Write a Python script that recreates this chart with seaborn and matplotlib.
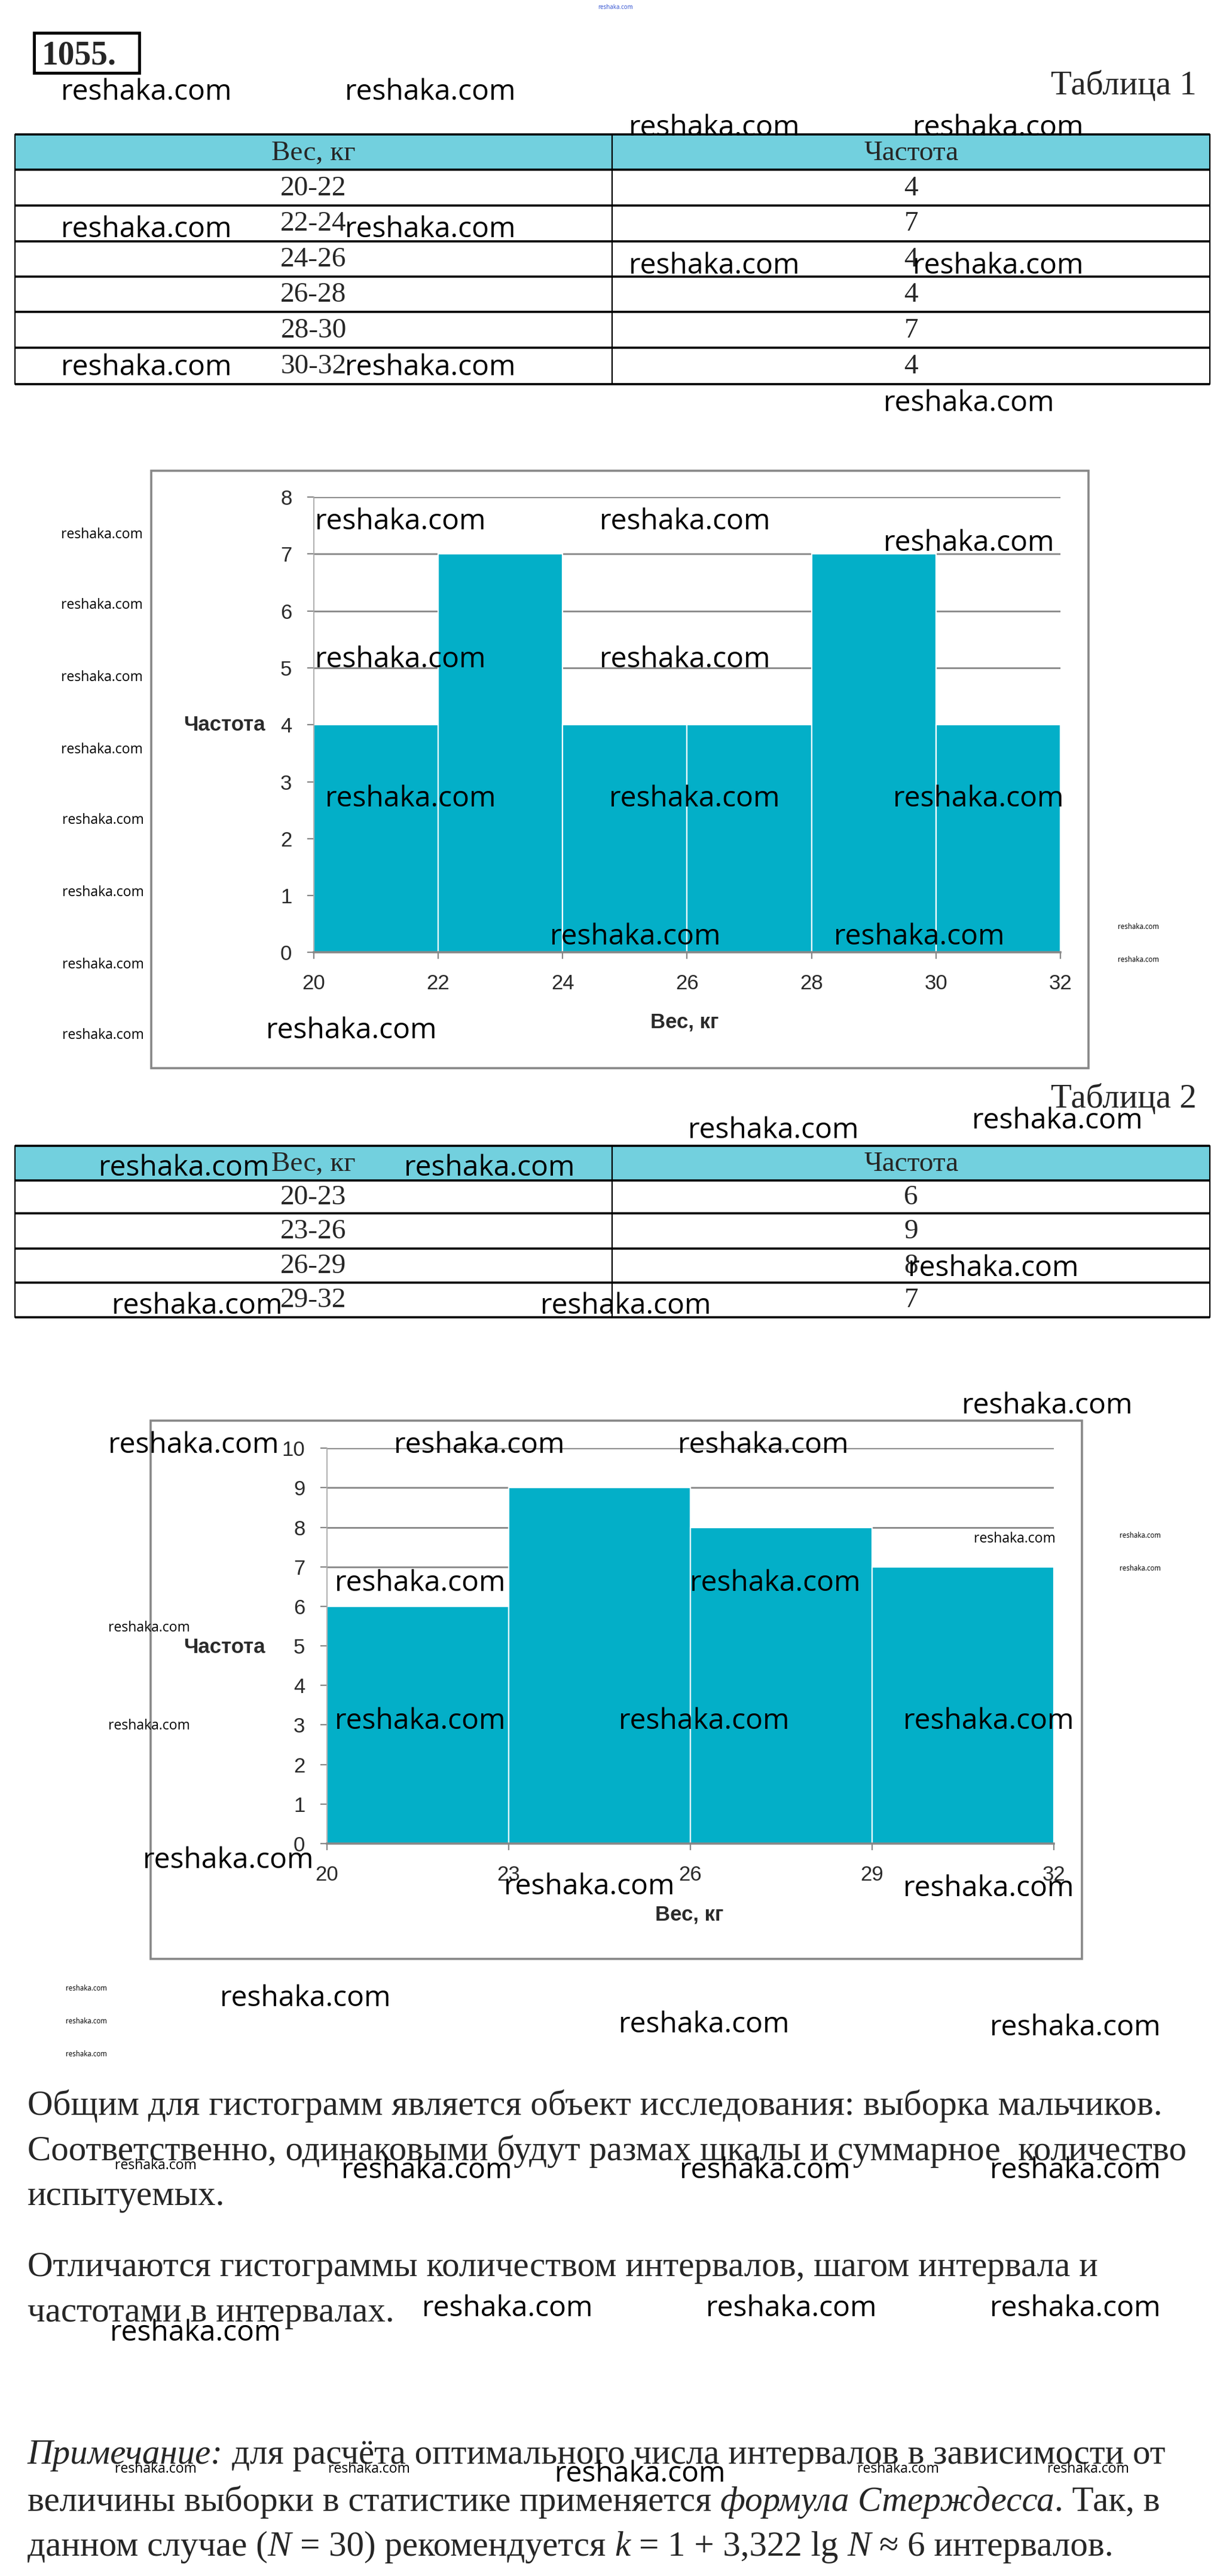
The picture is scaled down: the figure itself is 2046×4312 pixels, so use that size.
import matplotlib
matplotlib.use("Agg")
import matplotlib.pyplot as plt
import seaborn as sns
import numpy as np
import pandas as pd
from matplotlib.patches import Rectangle

# ---------------- data ----------------
problem_number = "1055."
table_titles = ["Таблица 1", "Таблица 2"]
col_headers = ["Вес, кг", "Частота"]
table1_bins = ["20-22", "22-24", "24-26", "26-28", "28-30", "30-32"]
table1_freq = [4, 7, 4, 4, 7, 4]
table2_bins = ["20-23", "23-26", "26-29", "29-32"]
table2_freq = [6, 9, 8, 7]
chart1_yticks = [0, 1, 2, 3, 4, 5, 6, 7, 8]
chart1_xticks = [20, 22, 24, 26, 28, 30, 32]
chart2_yticks = [0, 1, 2, 3, 4, 5, 6, 7, 8, 9, 10]
chart2_xticks = [20, 23, 26, 29, 32]
x_axis_label = "Вес, кг"
y_axis_label = "Частота"
body_lines = [
    [("Общим для гистограмм является объект исследования: выборка мальчиков.", "normal", False)],
    [("Соответственно, одинаковыми будут размах шкалы и суммарное  количество", "normal", False)],
    [("испытуемых.", "normal", False)],
    [("Отличаются гистограммы количеством интервалов, шагом интервала и", "normal", False)],
    [("частотами в интервалах.", "normal", False)],
    [("Примечание:", "italic", False), ("для расчёта оптимального числа интервалов в зависимости от", "normal", True)],
    [("величины выборки в статистике применяется", "normal", False), ("формула Стерждесса", "italic", True),
     (". Так, в", "normal", False)],
    [("данном случае (", "normal", False), ("N", "italic", False), ("= 30) рекомендуется", "normal", True),
     ("k", "italic", True), ("= 1 + 3,322 lg", "normal", True), ("N", "italic", True),
     ("≈ 6 интервалов.", "normal", True)],
]
watermark = "reshaka.com"

# ---------------- layout (reference page units 745 x 1570) ----------------
W, H = 745.0, 1570.0
FIG_W, FIG_H = 2046, 4312
TEAL = "#03AFC8"
HEAD = "#72D0DE"
GRAY = "#878787"
SERIF = ["Liberation Serif", "DejaVu Serif"]
NARROW = ["Liberation Sans Narrow", "Liberation Sans", "DejaVu Sans"]
WMF = ["Open Sans", "DejaVu Sans"]

sns.set_theme(style="white")
plt.rcParams["font.family"] = ["Liberation Serif", "DejaVu Sans"]

fig = plt.figure(figsize=(FIG_W / 100, FIG_H / 100), dpi=100)
fig.patch.set_facecolor("white")
bg = fig.add_axes([0, 0, 1, 1])
bg.set_xlim(0, W)
bg.set_ylim(H, 0)
bg.axis("off")
renderer = fig.canvas.get_renderer()


def rect(x0, y0, x1, y1):
    return [x0 / W, 1 - y1 / H, (x1 - x0) / W, (y1 - y0) / H]


def measure(txt, **kw):
    t = bg.text(0, 0, txt, **kw)
    w = t.get_window_extent(renderer=renderer).width
    t.remove()
    return w * W / FIG_W


# ---------- header ----------
bg.add_patch(Rectangle((20.6, 20), 64.4, 24.4, fill=False, lw=3.5, ec="black"))
bg.text(25.3, 39, problem_number, fontsize=40, fontweight="bold", family=SERIF, va="baseline", ha="left")
bg.text(729, 57.7, table_titles[0], fontsize=41, family=SERIF, va="baseline", ha="right")
bg.text(729, 675.2, table_titles[1], fontsize=41, family=SERIF, va="baseline", ha="right")
bg.text(375, 4.5, watermark, fontsize=7, family=WMF, color="#3050d0", ha="center", va="center")


# ---------- tables ----------
def draw_table(ylines, bins, freq):
    x0, xm, x1 = 9, 373, 737
    bg.add_patch(Rectangle((x0, ylines[0]), x1 - x0, ylines[1] - ylines[0], fc=HEAD, ec="none"))
    for y in ylines:
        bg.plot([x0, x1], [y, y], color="black", lw=2.6, solid_capstyle="butt")
    for x in (x0, xm, x1):
        bg.plot([x, x], [ylines[0], ylines[-1]], color="black", lw=1.6)
    cx = [(x0 + xm) / 2, (xm + x1) / 2]
    yc = (ylines[0] + ylines[1]) / 2 + 0.8
    for c, h in zip(cx, col_headers):
        bg.text(c, yc, h, fontsize=34, family=SERIF, ha="center", va="center")
    for i, (b, f) in enumerate(zip(bins, freq)):
        yc = (ylines[i + 1] + ylines[i + 2]) / 2 + 0.5
        bg.text(cx[0], yc, b, fontsize=34, family=SERIF, ha="center", va="center")
        bg.text(cx[1], yc, str(f), fontsize=34, family=SERIF, ha="center", va="center")


draw_table([81.8, 103.4, 125.2, 147.0, 168.7, 190.2, 212.0, 234.0], table1_bins, table1_freq)
draw_table([698.2, 719.3, 739.6, 760.9, 781.7, 802.7], table2_bins, table2_freq)


# ---------- histograms ----------
def draw_hist(frame, plot, bins, freq, xticks, yticks, ylab_pos, xlab_pos):
    bg.add_patch(Rectangle((frame[0], frame[1]), frame[2] - frame[0], frame[3] - frame[1],
                           fill=False, ec=GRAY, lw=2.6))
    ax = fig.add_axes(rect(*plot))
    ax.patch.set_alpha(0)
    lo = [float(b.split("-")[0]) for b in bins]
    hi = [float(b.split("-")[1]) for b in bins]
    edges = lo + [hi[-1]]
    centers = [(a + b) / 2 for a, b in zip(lo, hi)]
    sns.histplot(x=centers, weights=freq, bins=edges, ax=ax, color=TEAL, alpha=1,
                 edgecolor="white", linewidth=1.6, stat="count", zorder=2)
    ax.set_xlim(xticks[0], xticks[-1])
    ax.set_ylim(yticks[0], yticks[-1])
    ax.set_xticks(xticks)
    ax.set_yticks(yticks)
    ax.set_xlabel("")
    ax.set_ylabel("")
    ax.set_axisbelow(True)
    ax.yaxis.grid(True, color=GRAY, lw=2.0)
    ax.xaxis.grid(False)
    for s in ("top", "right"):
        ax.spines[s].set_visible(False)
    ax.spines["left"].set_color("#A8A8A8")
    ax.spines["left"].set_linewidth(1.3)
    ax.spines["bottom"].set_color(GRAY)
    ax.spines["bottom"].set_linewidth(2.6)
    ax.spines["bottom"].set_zorder(5)
    ax.tick_params(axis="both", which="major", direction="out", length=8, width=1.6,
                   color=GRAY, labelsize=25, labelcolor="#2a2a2a", pad=18,
                   left=True, bottom=True)
    for lab in ax.get_xticklabels() + ax.get_yticklabels():
        lab.set_family(NARROW)
    bg.text(ylab_pos[0], ylab_pos[1], y_axis_label, fontsize=25, fontweight="bold", family=NARROW,
            color="#2a2a2a", ha="right", va="center")
    bg.text(xlab_pos[0], xlab_pos[1], x_axis_label, fontsize=25, fontweight="bold", family=NARROW,
            color="#2a2a2a", ha="center", va="center")
    return ax


draw_hist((92, 287, 663, 651), (191, 303, 646, 580.5), table1_bins, table1_freq,
          chart1_xticks, chart1_yticks, (161.5, 442), (417, 623))
draw_hist((91.7, 866, 659, 1194), (199, 882.7, 642, 1123.6), table2_bins, table2_freq,
          chart2_xticks, chart2_yticks, (161.5, 1004), (420, 1167))

# ---------- body text ----------
ref_size = 40
body_size = ref_size * 689.0 / measure(body_lines[0][0][0], fontsize=ref_size, family=SERIF)
baselines = [1289, 1316.5, 1344, 1387.3, 1414.8, 1501.7, 1530.3, 1557.8]
sp = {}
for st in ("normal", "italic"):
    sp[st] = (measure("n n", fontsize=body_size, family=SERIF, fontstyle=st)
              - measure("nn", fontsize=body_size, family=SERIF, fontstyle=st))
for runs, yb in zip(body_lines, baselines):
    x = 16.7
    for txt, st, space in runs:
        if space:
            x += sp["normal"]
        t = bg.text(x, yb, txt, fontsize=body_size, family=SERIF, fontstyle=st, ha="left", va="baseline")
        x += t.get_window_extent(renderer=renderer).width * W / FIG_W

# ---------- watermarks ----------
big = 30 * 104.0 / measure(watermark, fontsize=30, family=WMF)
small = big * 0.48
tiny = big * 0.24
wm_big = [(37, 56), (210, 56), (383, 78), (556, 78), (37, 140), (210, 140), (383, 162), (556, 162),
          (37, 224), (210, 224), (538, 246), (192, 318), (365, 318), (538, 331), (192, 402), (365, 402),
          (198, 487), (371, 487), (544, 487), (335, 571), (508, 571), (162, 628), (419, 689), (592, 683),
          (60, 712), (246, 712), (553, 773), (68, 796), (329, 796), (586, 857), (66, 881), (240, 881),
          (413, 881), (204, 965), (420, 965), (204, 1049), (377, 1049), (550, 1049), (87, 1134),
          (307, 1150), (550, 1151), (134, 1218), (377, 1234), (603, 1236), (208, 1323), (414, 1323),
          (603, 1323), (257, 1407), (430, 1407), (603, 1407), (67, 1422), (338, 1508)]
wm_small = [(37, 326), (37, 369), (37, 413), (37, 457), (38, 500), (38, 544), (38, 588), (38, 631),
            (593, 938), (66, 992), (66, 1052), (70, 1320), (70, 1505), (200, 1505), (522, 1505), (638, 1505)]
wm_tiny = [(681, 565), (681, 585), (682, 936), (682, 956), (40, 1212), (40, 1232), (40, 1252)]
top = fig.add_axes([0, 0, 1, 1])
top.set_xlim(0, W)
top.set_ylim(H, 0)
top.axis("off")
top.patch.set_alpha(0)
for lst, sz in ((wm_big, big), (wm_small, small), (wm_tiny, tiny)):
    for x, y in lst:
        top.text(x, y, watermark, fontsize=sz, family=WMF, color="black", ha="left", va="center")

fig.savefig("out.png", dpi=100, facecolor="white")
